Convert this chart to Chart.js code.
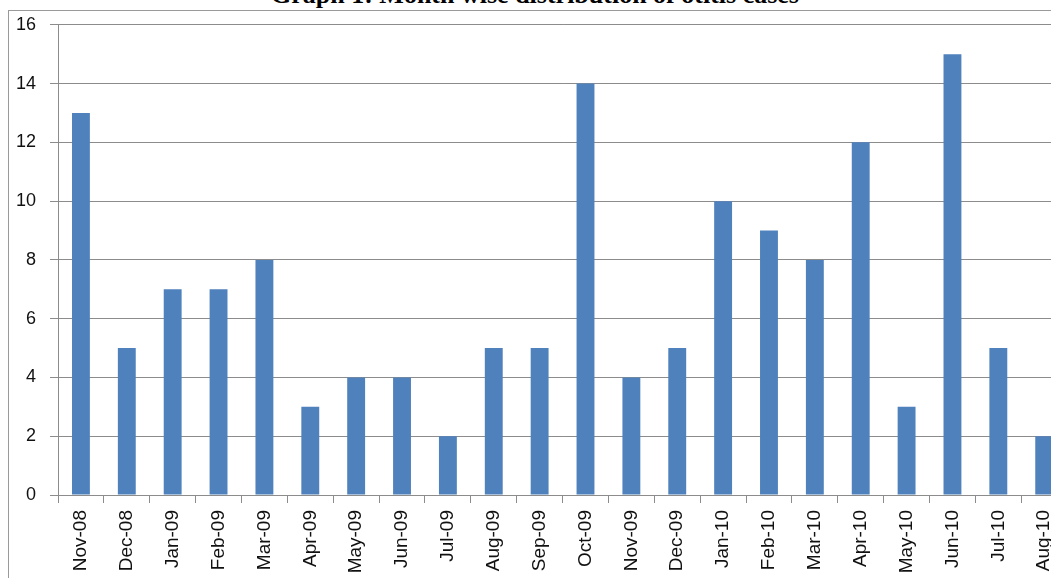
<!DOCTYPE html>
<html>
<head>
<meta charset="utf-8">
<script src="https://cdn.jsdelivr.net/npm/chart.js@4"></script>
<style>
  html, body { margin: 0; padding: 0; background: #fff; overflow: hidden; width: 1051px; height: 578px; }
  #title {
    position: absolute; left: 0; width: 1070px; top: -18px; text-align: center;
    font: bold 26px "Liberation Serif", serif; line-height: 26px; color: #000;
  }
  #frame {
    position: absolute; left: 8px; top: 10px; width: 1200px; height: 700px;
    border-left: 1px solid #9a9a9a; border-top: 1px solid #9a9a9a;
  }
  #wrap { position: absolute; left: 0; top: 0; width: 1074px; height: 578px; }
</style>
</head>
<body>
<div id="title">Graph 1: Month wise distribution of otitis cases</div>
<div id="frame"></div>
<div id="wrap"><canvas id="otitisChart"></canvas></div>
<script>
// month labels and case counts
const months = ['Nov-08', 'Dec-08', 'Jan-09', 'Feb-09', 'Mar-09', 'Apr-09', 'May-09', 'Jun-09',
    'Jul-09', 'Aug-09', 'Sep-09', 'Oct-09', 'Nov-09', 'Dec-09', 'Jan-10', 'Feb-10',
    'Mar-10', 'Apr-10', 'May-10', 'Jun-10', 'Jul-10', 'Aug-10'];
const cases = [13, 5, 7, 7, 8, 3, 4, 4, 2, 5, 5, 14, 4, 5, 10, 9, 8, 12, 3, 15, 5, 2];
const yMin = 0;
const yMax = 16;
const yStep = 2;

function otitisChart(chartID) {
    const ctx = document.getElementById(chartID).getContext('2d');
    new Chart(ctx, {
        type: 'bar',
        data: {
            labels: months,
            datasets: [{
                data: cases,
                backgroundColor: '#4f81bd',
                borderWidth: 0,
                barPercentage: 0.39,
                categoryPercentage: 1
            }]
        },
        options: {
            responsive: true,
            maintainAspectRatio: false,
            animation: false,
            layout: {
                padding: { top: 24, left: 0, right: 0, bottom: 0 }
            },
            scales: {
                x: {
                    grid: {
                        offset: true,
                        drawOnChartArea: false,
                        drawTicks: true,
                        tickLength: 8,
                        color: '#8c8c8c'
                    },
                    border: { color: '#8c8c8c' },
                    ticks: {
                        minRotation: 90,
                        maxRotation: 90,
                        autoSkip: false,
                        padding: 7,
                        color: '#111',
                        font: { family: 'Liberation Sans', size: 19 }
                    },
                    afterFit: function (scale) { scale.height = 83; }
                },
                y: {
                    min: yMin,
                    max: yMax,
                    grid: {
                        color: '#8c8c8c',
                        tickLength: 8
                    },
                    border: { color: '#8c8c8c' },
                    ticks: {
                        stepSize: yStep,
                        padding: 14,
                        color: '#111',
                        font: { family: 'Liberation Sans', size: 18 }
                    },
                    afterFit: function (scale) { scale.width = 58; }
                }
            },
            plugins: {
                legend: { display: false },
                tooltip: { enabled: false },
                title: { display: false }
            }
        }
    });
}

otitisChart('otitisChart');
</script>
</body>
</html>
